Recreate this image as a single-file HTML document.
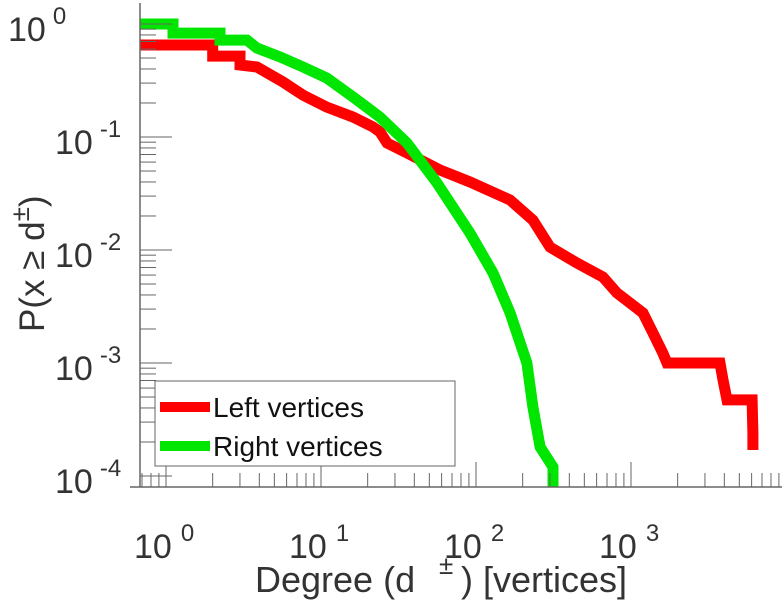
<!DOCTYPE html>
<html><head><meta charset="utf-8"><style>
html,body{margin:0;padding:0;background:#fff;}
svg{display:block;font-family:"Liberation Sans",sans-serif;}
</style></head><body>
<svg id="chart" width="782" height="600" viewBox="0 0 782 600" style="position:absolute;left:0;top:0">
<defs><clipPath id="clip"><rect x="140" y="3" width="642" height="484"/></clipPath></defs>
<g id="series" clip-path="url(#clip)"></g>
<g id="axes"></g>
</svg>
<script>
const redDegree=[0.68,2,2,3,3,3.86,5.69,7.65,10.9,16.1,21.6,24,26.7,35.9,58.6,91.5,166,233,300,448,659,812,1195,1386,1607,1708,3750,3925,4160,6040,6120,6120];
const redP=[0.652,0.652,0.52,0.52,0.434,0.416,0.307,0.235,0.184,0.150,0.123,0.111,0.0885,0.0722,0.051,0.040,0.0277,0.0184,0.0106,0.00767,0.00577,0.00416,0.00277,0.00184,0.00122,0.001,0.001,0.000708,0.000471,0.000471,0.00024,0.00017];
const greenDegree=[0.68,1.11,1.11,2.23,2.23,3.33,3.86,5.44,7.65,10.9,16.1,24,35.9,56,91.5,129,166,213,233,259,314,314];
const greenP=[1,1,0.83,0.83,0.72,0.72,0.613,0.511,0.416,0.333,0.226,0.150,0.0885,0.0392,0.0141,0.00625,0.00277,0.001,0.000408,0.000181,0.00012,0.00008];
const xTickExps=[0,1,2,3];
const yTickExps=[0,-1,-2,-3,-4];

const NS="http://www.w3.org/2000/svg";
function X(d){return 166+155*Math.log10(d);}
function Y(p){return 24-113*Math.log10(p);}
function mk(tag,attrs,parent){const e=document.createElementNS(NS,tag);for(const k in attrs)e.setAttribute(k,attrs[k]);parent.appendChild(e);return e;}
const series=document.getElementById('series');
const axes=document.getElementById('axes');

function drawSeries(xs,ys,color,name){
  const pts=xs.map((d,i)=>X(d).toFixed(1)+','+Y(ys[i]).toFixed(1)).join(' ');
  const pl=mk('polyline',{points:pts,fill:'none',stroke:color,'stroke-width':11,'stroke-linejoin':'miter','stroke-linecap':'butt'},series);
  
  
}
drawSeries(redDegree,redP,'#ff0000','left-vertices-line');
drawSeries(greenDegree,greenP,'#00e600','right-vertices-line');

const ax=mk('line',{x1:140,y1:3,x2:140,y2:487,stroke:'#666','stroke-width':1.5},axes);


const bx=mk('line',{x1:130,y1:487,x2:782,y2:487,stroke:'#666','stroke-width':1.5},axes);



for(let e=0;e>=-4;e--){
  const y=Y(Math.pow(10,e));
  const t=mk('line',{x1:140,y1:y,x2:172,y2:y,stroke:'#666','stroke-width':1},axes);
  
  
  if(e>-4){for(let m=2;m<=9;m++){const yy=Y(m*Math.pow(10,e-1));
    const mt=mk('line',{x1:140,y1:yy,x2:156,y2:yy,stroke:'#666','stroke-width':1},axes);
    
    }}
}
for(let m=2;m<=9;m++){const yy=Y(m);if(yy<3)continue;
  const mt=mk('line',{x1:140,y1:yy,x2:156,y2:yy,stroke:'#666','stroke-width':1},axes);
  
  }
for(let e=-1;e<=3;e++){
  const x=X(Math.pow(10,e));
  if(x>=140){const t=mk('line',{x1:x,y1:487,x2:x,y2:462,stroke:'#666','stroke-width':1},axes);
  
  }
  for(let m=2;m<=9;m++){const xx=X(m*Math.pow(10,e));if(xx<140||xx>782)continue;
    const mt=mk('line',{x1:xx,y1:487,x2:xx,y2:473,stroke:'#666','stroke-width':1},axes);
    
    }
}
yTickExps.forEach(e=>{
  const y=Y(Math.pow(10,e));
  const t=mk('text',{x:(e===0?8:55),y:y+17,'font-size':34,fill:'#333'},axes);
  
  
  t.textContent='10';
  const s=mk('tspan',{dx:7,dy:-17,'font-size':24},t);s.textContent=String(e);
});
xTickExps.forEach(e=>{
  const x=X(Math.pow(10,e));
  const t=mk('text',{x:x-32,y:558,'font-size':34,fill:'#333'},axes);
  
  
  t.textContent='10';
  const s=mk('tspan',{dx:9,dy:-17,'font-size':24},t);s.textContent=String(e);
});
</script>
<svg style="position:absolute;left:0;top:0" width="782" height="600">
<g font-family="Liberation Sans, sans-serif" fill="#333">
<text x="255" y="592" font-size="36">Degree (d</text>
<text x="439" y="574" font-size="26">±</text>
<text x="461" y="592" font-size="36">) [vertices]</text>
</g>
<text transform="translate(44,332) rotate(-90)" font-family="Liberation Sans, sans-serif" font-size="35" fill="#333">P(x ≥ d<tspan dy="-15" font-size="26">±</tspan><tspan dy="15">)</tspan></text>
<g>
<rect x="155" y="381" width="300" height="85" fill="#fff" stroke="#666" stroke-width="1"/>
<line x1="160" y1="407" x2="210" y2="407" stroke="#ff0000" stroke-width="10"/>
<text x="213" y="417" font-family="Liberation Sans, sans-serif" font-size="28" fill="#111">Left vertices</text>
<line x1="160" y1="446" x2="210" y2="446" stroke="#00e600" stroke-width="10"/>
<text x="213" y="456" font-family="Liberation Sans, sans-serif" font-size="28" fill="#111">Right vertices</text>
</g>
</svg>
</body></html>
